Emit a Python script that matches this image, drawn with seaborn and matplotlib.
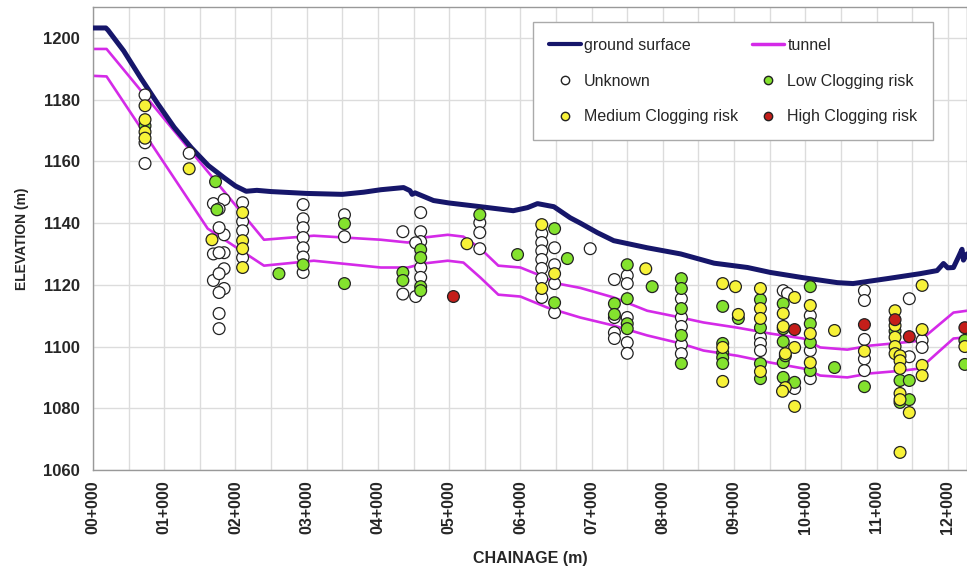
import numpy as np
import pandas as pd
import matplotlib
matplotlib.use('Agg')
import matplotlib.pyplot as plt
from matplotlib.lines import Line2D
import seaborn as sns

sns.set_style('white')
plt.rcParams['font.family'] = ['Liberation Sans', 'DejaVu Sans']

# ground surface profile (chainage km, elevation m)
ground_km = [0, 0.18, 0.21, 0.43, 0.67, 0.91, 1.14, 1.38, 1.62, 1.84, 2.0, 2.15, 2.3, 2.5,
             3.0, 3.5, 3.8, 4.04, 4.36, 4.45, 4.48, 4.52, 4.78, 5.0, 5.44, 5.9, 6.1, 6.24,
             6.4, 6.47, 6.70, 6.84, 7.08, 7.31, 7.78, 8.25, 8.72, 9.19, 9.51, 9.97, 10.45,
             10.67, 11.15, 11.61, 11.85, 11.94, 12.0, 12.08, 12.15, 12.2, 12.22, 12.27]
ground_el = [1203.2, 1203.2, 1202.5, 1195.8, 1187, 1178.6, 1171, 1164.4, 1158.6, 1154.7, 1152,
             1150.3, 1150.6, 1150.2, 1149.6, 1149.3, 1150, 1150.8, 1151.5, 1150.5, 1149.3,
             1149.8, 1147.3, 1146.5, 1145.3, 1144, 1145, 1146.3, 1145.6, 1145.3, 1141.7, 1140,
             1136.9, 1134.3, 1132, 1130, 1127, 1125.6, 1124, 1122.3, 1120.7, 1120.4, 1122,
             1123.6, 1124.6, 1126.9, 1125.5, 1125.6, 1129, 1131.5, 1128, 1130]

# tunnel (two lines)
tun_up_km = [0, 0.19, 2.40, 3.1, 4.04, 4.42, 4.64, 4.98, 5.20, 5.44, 5.69, 6.00, 6.28, 6.52,
             6.84, 7.31, 7.78, 8.25, 8.57, 9.05, 9.51, 9.97, 10.21, 10.59, 10.91, 11.37,
             11.61, 12.08, 12.27]
tun_up_el = [1196.4, 1196.4, 1134.6, 1135.9, 1134.6, 1133.7, 1135.3, 1136.2, 1135.6, 1131.7,
             1126.2, 1125.6, 1123, 1120.4, 1119, 1115.9, 1111.6, 1109.4, 1107.8, 1106.1,
             1104.2, 1102.6, 1099.7, 1099, 1100.3, 1101.3, 1101.9, 1111, 1111.6]
tun_lo_km = [0, 0.19, 1.61, 2.40, 3.1, 4.04, 4.42, 4.64, 4.98, 5.20, 5.44, 5.69, 6.00, 6.38,
             6.84, 7.31, 7.78, 8.25, 8.57, 9.05, 9.51, 9.97, 10.21, 10.59, 10.91, 11.37,
             11.61, 12.08, 12.27]
tun_lo_el = [1187.7, 1187.5, 1138.2, 1126.2, 1127.8, 1125.6, 1125.6, 1126.9, 1127.8, 1127.2,
             1122.3, 1116.8, 1116.2, 1112.6, 1109.4, 1106.8, 1103.6, 1101, 1098.7, 1097,
             1094.8, 1092.9, 1090.6, 1090, 1091.3, 1092.2, 1092.9, 1102.6, 1103]

# sample points by clogging risk
unk_km = [0.73, 0.73, 0.73, 1.35, 1.69, 1.69, 1.69, 1.84, 1.84, 1.84, 1.84, 1.84,
          1.77, 1.77, 1.77, 1.77, 1.77, 1.77, 1.77, 2.10, 2.10, 2.10, 2.10,
          2.95, 2.95, 2.95, 2.95, 2.95, 2.95, 2.95, 3.53, 3.53, 4.35, 4.35,
          4.60, 4.60, 4.60, 4.60, 4.60, 4.53, 4.53, 5.43, 5.43, 5.43,
          6.30, 6.30, 6.30, 6.30, 6.30, 6.30, 6.30, 6.48, 6.48, 6.48, 6.48, 6.98,
          7.32, 7.32, 7.32, 7.32, 7.50, 7.50, 7.50, 7.50, 7.50,
          8.26, 8.26, 8.26, 8.26, 8.26, 9.37, 9.37, 9.37, 9.69, 9.75, 9.85,
          10.07, 10.07, 10.07, 10.83, 10.83, 10.83, 10.83, 10.83, 11.46, 11.46, 11.64, 11.64]
unk_el = [1181.5, 1166, 1159.3, 1162.6, 1146.3, 1130, 1121.4, 1147.6, 1136.2, 1130.4, 1125.2, 1118.8,
          1144.6, 1138.5, 1130.4, 1123.6, 1117.5, 1110.7, 1105.8, 1146.6, 1140.5, 1137.5, 1128.8,
          1146, 1141.4, 1138.5, 1135.3, 1132, 1129, 1124, 1142.7, 1135.6, 1137.2, 1117,
          1143.4, 1137.2, 1134, 1125.6, 1122.4, 1116.2, 1133.6, 1140.1, 1136.9, 1131.7,
          1136.6, 1133.7, 1131, 1128.2, 1125.3, 1122, 1115.9, 1132, 1126.5, 1120.4, 1111, 1131.7,
          1121.7, 1109.4, 1104.5, 1102.6, 1123, 1120.4, 1109.4, 1101.3, 1097.8,
          1115.5, 1109.4, 1106.5, 1100.6, 1097.7, 1103, 1101, 1098.7, 1118.1, 1117.2, 1086.4,
          1110, 1098.7, 1089.6, 1118.1, 1114.9, 1102.3, 1096, 1092.2, 1115.5, 1096.7, 1102, 1099.7]

low_km = [0.73, 1.72, 1.74, 2.61, 2.95, 3.53, 3.53, 4.35, 4.35, 4.60, 4.60, 4.60, 4.60,
          5.43, 5.96, 6.48, 6.48, 6.66, 7.32, 7.32, 7.50, 7.50, 7.50, 7.50, 7.85,
          8.26, 8.26, 8.26, 8.26, 8.26, 8.84, 8.84, 8.84, 8.84, 8.84, 9.06,
          9.37, 9.37, 9.37, 9.37, 9.69, 9.69, 9.69, 9.69, 9.69, 9.72, 9.85,
          10.07, 10.07, 10.07, 10.07, 10.41, 10.83, 11.33, 11.33, 11.46, 11.46, 11.26,
          12.24, 12.24]
low_el = [1171.5, 1153.4, 1144.3, 1123.6, 1126.5, 1139.8, 1120.4, 1124, 1121.4, 1131.4, 1128.8,
          1119.4, 1118.1, 1142.7, 1129.8, 1138.2, 1114.2, 1128.5, 1113.9, 1110.4, 1126.5, 1115.5,
          1107.4, 1105.8, 1119.4, 1122, 1118.8, 1112.3, 1103.6, 1094.5, 1113, 1101, 1098, 1096.4,
          1094.5, 1109.1, 1115.2, 1106.1, 1094.5, 1089.6, 1113.9, 1105.8, 1101.6, 1094.8, 1090,
          1097, 1088.4, 1119.4, 1107.4, 1101.3, 1092.2, 1093.2, 1087, 1089, 1081.9, 1089, 1082.8,
          1105, 1094.2, 1102]

med_km = [0.73, 0.73, 0.73, 0.73, 1.35, 1.67, 2.10, 2.10, 2.10, 2.10, 5.25, 6.30, 6.30, 6.48,
          7.76, 8.84, 8.84, 8.84, 9.02, 9.06, 9.37, 9.37, 9.37, 9.37, 9.85, 9.85, 9.85,
          9.69, 9.69, 9.72, 9.72, 9.68, 10.07, 10.07, 10.07, 10.41, 10.83,
          11.26, 11.26, 11.26, 11.26, 11.26, 11.33, 11.33, 11.33, 11.33, 11.33, 11.33,
          11.46, 11.64, 11.64, 11.64, 11.64, 12.24]
med_el = [1178, 1173.5, 1169.5, 1167.5, 1157.6, 1134.6, 1143.4, 1134.3, 1131.7, 1125.6, 1133.3,
          1139.5, 1118.8, 1123.6, 1125.2, 1120.4, 1099.7, 1088.7, 1119.4, 1110.4, 1118.8, 1112.3,
          1109.1, 1091.9, 1115.9, 1099.7, 1080.6, 1110.7, 1106.5, 1097.7, 1086.7, 1085.5,
          1113.3, 1104.2, 1094.8, 1105.2, 1098.5, 1111.6, 1106.8, 1103, 1100, 1097.7,
          1097, 1095.4, 1092.9, 1084.8, 1082.8, 1065.7, 1078.6, 1119.8, 1105.5, 1093.9, 1090.6,
          1100]

high_km = [5.06, 9.85, 10.83, 11.26, 11.46, 12.24]
high_el = [1116.2, 1105.5, 1107.1, 1108.7, 1103.2, 1106.1]

risk_labels = ['Unknown', 'Low Clogging risk', 'Medium Clogging risk', 'High Clogging risk']
risk_colors = ['#ffffff', '#84e22e', '#f7f238', '#c41e1a']

pts = pd.concat([
    pd.DataFrame({'km': unk_km, 'el': unk_el, 'risk': risk_labels[0]}),
    pd.DataFrame({'km': low_km, 'el': low_el, 'risk': risk_labels[1]}),
    pd.DataFrame({'km': med_km, 'el': med_el, 'risk': risk_labels[2]}),
    pd.DataFrame({'km': high_km, 'el': high_el, 'risk': risk_labels[3]}),
], ignore_index=True)

navy = '#16166a'
magenta = '#d42ae8'
bold_font = ['Liberation Sans Narrow', 'Liberation Sans', 'DejaVu Sans']

fig = plt.figure(figsize=(9.67, 5.72), dpi=100)
ax = fig.add_axes([0.0962, 0.1783, 0.9038, 0.8095])

sns.lineplot(x=ground_km, y=ground_el, ax=ax, color=navy, lw=3.6, sort=False, zorder=3)
sns.lineplot(x=tun_up_km, y=tun_up_el, ax=ax, color=magenta, lw=1.9, sort=False, zorder=2)
sns.lineplot(x=tun_lo_km, y=tun_lo_el, ax=ax, color=magenta, lw=1.9, sort=False, zorder=2)
sns.scatterplot(data=pts, x='km', y='el', hue='risk', hue_order=risk_labels,
                palette=dict(zip(risk_labels, risk_colors)), s=72, edgecolor='#222222',
                linewidth=0.9, ax=ax, legend=False, zorder=4)

ax.set_xlim(0, 12.27)
ax.set_ylim(1060, 1210)
ax.set_xticks(np.arange(0, 13, 1))
ax.set_xticks(np.arange(0.5, 12.5, 1), minor=True)
ax.set_xticklabels(['%02d+000' % k for k in range(13)], rotation=90,
                   fontweight='bold', family=bold_font, fontsize=11.5)
ax.set_yticks(np.arange(1060, 1201, 20))
ax.set_yticklabels([str(v) for v in range(1060, 1201, 20)],
                   fontweight='bold', family=bold_font, fontsize=12)
ax.grid(True, which='both', color='#dcdcdc', lw=1)
ax.set_axisbelow(True)
ax.tick_params(axis='both', which='both', direction='inout', length=7, width=1,
               color='#888888', pad=6)
ax.tick_params(axis='x', which='major', pad=4)
for side in ['left', 'bottom', 'top', 'right']:
    ax.spines[side].set_color('#999999')
    ax.spines[side].set_linewidth(1)

ax.set_xlabel('CHAINAGE (m)', fontweight='bold', family=bold_font, fontsize=11.5, labelpad=12)
ax.set_ylabel('ELEVATION (m)', fontweight='bold', family=bold_font, fontsize=10, labelpad=10)

handles = [
    Line2D([], [], color=navy, lw=3),
    Line2D([], [], ls='none', marker='o', ms=6, mfc=risk_colors[0], mec='#222222'),
    Line2D([], [], ls='none', marker='o', ms=6, mfc=risk_colors[2], mec='#222222'),
    Line2D([], [], color=magenta, lw=2.5),
    Line2D([], [], ls='none', marker='o', ms=6, mfc=risk_colors[1], mec='#222222'),
    Line2D([], [], ls='none', marker='o', ms=6, mfc=risk_colors[3], mec='#222222'),
]
labels = ['ground surface', 'Unknown', 'Medium Clogging risk',
          'tunnel', 'Low Clogging risk', 'High Clogging risk']
leg = ax.legend(handles, labels, ncol=2, loc='upper left', bbox_to_anchor=(0.503, 0.968),
                borderaxespad=0, fontsize=11.5, frameon=True, fancybox=False, framealpha=1,
                edgecolor='#aaaaaa', handlelength=2.0, handletextpad=0.2,
                columnspacing=0.9, labelspacing=1.3, borderpad=1.0)
leg.get_frame().set_linewidth(1)
leg.set_zorder(10)

fig.savefig('out.png', dpi=100)
